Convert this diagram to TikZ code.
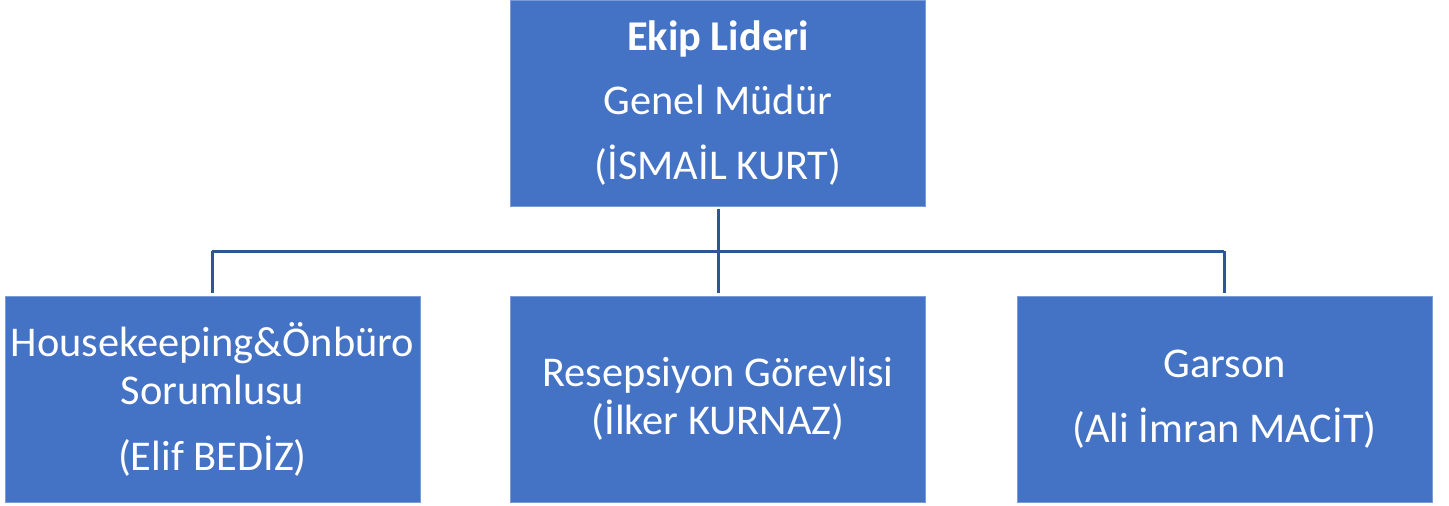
\documentclass[tikz,border=0pt]{standalone}
\usepackage{fontspec}
\setmainfont{Carlito}
\definecolor{boxblue}{HTML}{4472C4}
\definecolor{lineblue}{HTML}{2F5597}
\begin{document}
\begin{tikzpicture}[x=1pt,y=-1pt,
  orgbox/.style={fill=boxblue, draw=boxblue!70!white, line width=0.8pt,
    minimum width=415pt, minimum height=206pt, inner sep=0pt, text=white,
    align=center, font=\fontsize{42.4}{48}\selectfont},
  conn/.style={draw=lineblue, line width=3pt}]
\useasboundingbox (0,0) rectangle (1449,506);
\node[orgbox] (lead) at (718,103) {\textbf{Ekip Lideri}\\[16pt]Genel Müdür\\[17pt](İSMAİL KURT)};
\node[orgbox] (hk) at (212.5,399) {Housekeeping\&Önbüro\\Sorumlusu\\[18pt](Elif BEDİZ)};
\node[orgbox] (rs) at (718,399) {Resepsiyon Görevlisi\\(İlker KURNAZ)};
\node[orgbox] (gs) at (1224.5,399) {Garson\\[17pt](Ali İmran MACİT)};
\coordinate (jc) at (718,251);
\coordinate (jl) at (212,251);
\coordinate (jr) at (1224,251);
\draw[conn] ([yshift=-3pt]lead.south) -- (jc);
\draw[conn] (jl) -- (jr);
\draw[conn] (jl) -- ([yshift=3pt]hk.north -| jl);
\draw[conn] (jc) -- ([yshift=3pt]rs.north);
\draw[conn] (jr) -- ([yshift=3pt]gs.north -| jr);
\end{tikzpicture}
\end{document}
